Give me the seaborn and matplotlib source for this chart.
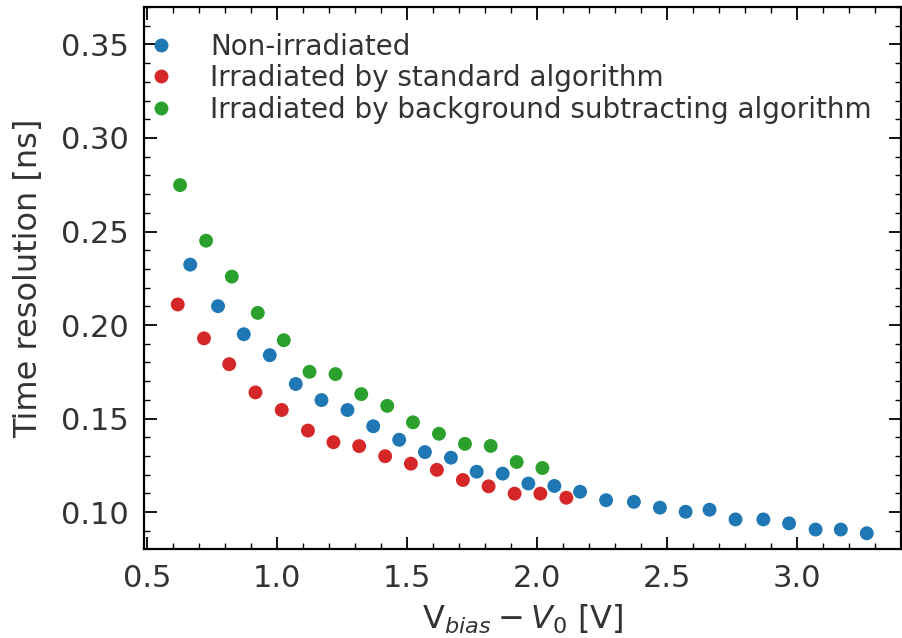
import pandas as pd
import numpy as np
import seaborn as sns
import matplotlib.pyplot as plt

# Values
non_irr_v = [0.665, 0.772, 0.871, 0.971, 1.071, 1.170, 1.270, 1.369, 1.469, 1.568,
             1.668, 1.767, 1.867, 1.966, 2.066, 2.165, 2.265, 2.372, 2.472, 2.571,
             2.663, 2.763, 2.870, 2.969, 3.071, 3.168, 3.268]
non_irr_t = [0.2323, 0.2101, 0.1951, 0.1839, 0.1685, 0.1599, 0.1546, 0.1459, 0.1387, 0.1321,
             0.1291, 0.1216, 0.1206, 0.1153, 0.1140, 0.1109, 0.1064, 0.1055, 0.1024, 0.1002,
             0.1013, 0.0961, 0.0961, 0.0940, 0.0907, 0.0907, 0.0887]

std_v = [0.617, 0.718, 0.815, 0.916, 1.017, 1.118, 1.216, 1.315, 1.415, 1.514,
         1.614, 1.714, 1.813, 1.913, 2.012, 2.112]
std_t = [0.2110, 0.1929, 0.1791, 0.1640, 0.1546, 0.1436, 0.1374, 0.1353, 0.1299, 0.1259,
         0.1226, 0.1172, 0.1138, 0.1099, 0.1099, 0.1077]

bkg_v = [0.626, 0.726, 0.825, 0.925, 1.025, 1.124, 1.224, 1.323, 1.423, 1.522,
         1.622, 1.722, 1.821, 1.921, 2.020]
bkg_t = [0.2748, 0.2451, 0.2259, 0.2065, 0.1919, 0.1750, 0.1738, 0.1631, 0.1568, 0.1480,
         0.1419, 0.1365, 0.1354, 0.1268, 0.1236]

labels = ['Non-irradiated',
          'Irradiated by standard algorithm',
          'Irradiated by background subtracting algorithm']
colors = ['#1f77b4', '#d62728', '#2ca02c']

df = pd.concat([
    pd.DataFrame({'v': non_irr_v, 't': non_irr_t, 'set': labels[0]}),
    pd.DataFrame({'v': std_v, 't': std_t, 'set': labels[1]}),
    pd.DataFrame({'v': bkg_v, 't': bkg_t, 'set': labels[2]}),
])

sns.set_style('ticks')
plt.rcParams['font.family'] = ['DejaVu Sans']
plt.rcParams['text.color'] = '#333333'

fig = plt.figure(figsize=(9.02, 6.38), dpi=100)
ax = fig.add_axes([0.1596, 0.1395, 0.8394, 0.8495])

sns.scatterplot(data=df, x='v', y='t', hue='set', hue_order=labels,
                palette=dict(zip(labels, colors)), s=100, linewidth=0, ax=ax)

ax.set_xlim(0.487, 3.395)
ax.set_ylim(0.0803, 0.3686)
ax.set_xticks(np.arange(0.5, 3.01, 0.5))
ax.set_xticks(np.arange(0.5, 3.41, 0.1), minor=True)
ax.set_yticks(np.arange(0.10, 0.351, 0.05))
ax.set_yticks(np.arange(0.09, 0.37, 0.01), minor=True)
ax.set_yticklabels([f'{t:.2f}' for t in np.arange(0.10, 0.351, 0.05)])
ax.set_xticklabels([f'{t:.1f}' for t in np.arange(0.5, 3.01, 0.5)])

ax.tick_params(which='both', direction='in', top=True, right=True,
               colors='black', labelcolor='#333333', labelsize=22)
ax.tick_params(which='major', length=9, width=1.3, pad=11)
ax.tick_params(which='minor', length=4.5, width=1.0)
for sp in ax.spines.values():
    sp.set_linewidth(1.6)
    sp.set_color('black')

ax.set_xlabel(r'V$_{bias} - V_0$ [V]', fontsize=23, color='#333333', labelpad=7)
ax.set_ylabel('Time resolution [ns]', fontsize=23, color='#333333', labelpad=12)

handles, labs = ax.get_legend_handles_labels()
ax.legend(handles, labs, loc='upper left', bbox_to_anchor=(0.0, 0.9626),
          frameon=False, fontsize=20, borderaxespad=0, borderpad=0.2,
          handlelength=0.8, handletextpad=1.38, labelspacing=0.12)

fig.savefig('out.png', dpi=100)
